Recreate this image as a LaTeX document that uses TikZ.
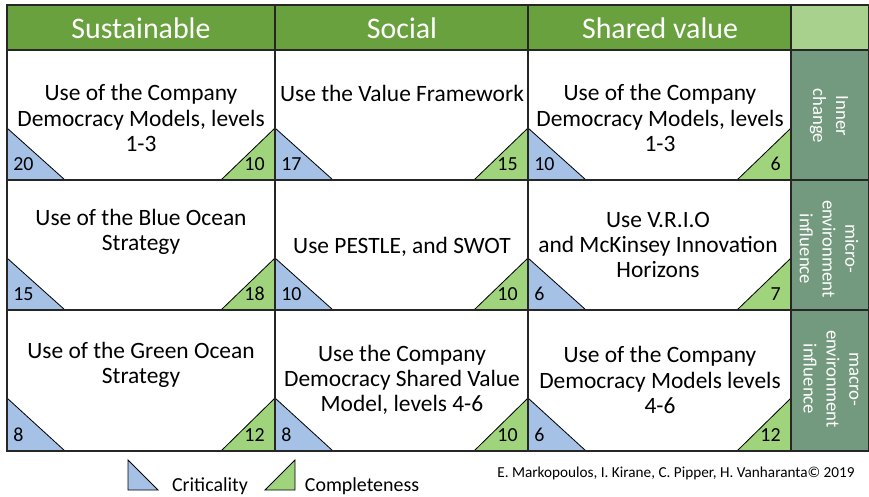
\documentclass[tikz,border=0pt]{standalone}
\usepackage{fontspec}
\setmainfont{Carlito}
\definecolor{headgreen}{HTML}{6AA13F}
\definecolor{lightgreen}{HTML}{A9D18E}
\definecolor{sidegreen}{HTML}{739A7F}
\definecolor{critblue}{HTML}{A5C2E6}
\definecolor{compgreen}{HTML}{9FD47C}

\begin{document}
\begin{tikzpicture}[x=0.03cm,y=-0.03cm,
        gridline/.style={draw=black!85,line width=0.9pt},
        crit/.style={fill=critblue,draw=black,line width=0.7pt},
        comp/.style={fill=compgreen,draw=black,line width=0.7pt},
        critnum/.style={anchor=base west,xshift=5pt,yshift=8.5pt,inner sep=0pt,font=\fontsize{17}{19}\selectfont},
        compnum/.style={anchor=base east,xshift=-8.5pt,yshift=8.5pt,inner sep=0pt,font=\fontsize{17}{19}\selectfont},
        head/.style={text=white,font=\fontsize{25.5}{28}\selectfont},
        cell/.style={align=center,inner sep=0pt,font=\fontsize{20}{21.5}\selectfont},
        side/.style={text=white,align=center,rotate=-90,inner sep=0pt,font=\fontsize{16}{19.5}\selectfont},
        legend/.style={font=\fontsize{17}{19}\selectfont}]
        \useasboundingbox (0,0) rectangle (869,496);
        \fill[headgreen] (7,5) rectangle (791,50);
        \fill[lightgreen] (791,5) rectangle (869,50);
        \fill[sidegreen] (791,50) rectangle (869,451);

        \node[head] (h1) at (141,28) {Sustainable};
        \node[head] (h2) at (402,28) {Social};
        \node[head] (h3) at (660,28) {Shared value};

        \draw[crit] (7,180) node[critnum] (k11) {20} -- ++(0,-52) -- ++(58,52) -- cycle;
        \draw[comp] (275,180) node[compnum] (g11) {10} -- ++(0,-52) -- ++(-54,52) -- cycle;
        \draw[crit] (275,180) node[critnum] (k12) {17} -- ++(0,-52) -- ++(58,52) -- cycle;
        \draw[comp] (528,180) node[compnum] (g12) {15} -- ++(0,-52) -- ++(-54,52) -- cycle;
        \draw[crit] (528,180) node[critnum] (k13) {10} -- ++(0,-52) -- ++(58,52) -- cycle;
        \draw[comp] (791,180) node[compnum] (g13) {6} -- ++(0,-52) -- ++(-54,52) -- cycle;
        \draw[crit] (7,310) node[critnum] (k21) {15} -- ++(0,-52) -- ++(58,52) -- cycle;
        \draw[comp] (275,310) node[compnum] (g21) {18} -- ++(0,-52) -- ++(-54,52) -- cycle;
        \draw[crit] (275,310) node[critnum] (k22) {10} -- ++(0,-52) -- ++(58,52) -- cycle;
        \draw[comp] (528,310) node[compnum] (g22) {10} -- ++(0,-52) -- ++(-54,52) -- cycle;
        \draw[crit] (528,310) node[critnum] (k23) {6} -- ++(0,-52) -- ++(58,52) -- cycle;
        \draw[comp] (791,310) node[compnum] (g23) {7} -- ++(0,-52) -- ++(-54,52) -- cycle;
        \draw[crit] (7,451) node[critnum] (k31) {8} -- ++(0,-53) -- ++(58,53) -- cycle;
        \draw[comp] (275,451) node[compnum] (g31) {12} -- ++(0,-53) -- ++(-54,53) -- cycle;
        \draw[crit] (275,451) node[critnum] (k32) {8} -- ++(0,-53) -- ++(58,53) -- cycle;
        \draw[comp] (528,451) node[compnum] (g32) {10} -- ++(0,-53) -- ++(-54,53) -- cycle;
        \draw[crit] (528,451) node[critnum] (k33) {6} -- ++(0,-53) -- ++(58,53) -- cycle;
        \draw[comp] (791,451) node[compnum] (g33) {12} -- ++(0,-53) -- ++(-54,53) -- cycle;

        \draw[gridline] (7,5) rectangle (869,451);
        \draw[gridline] (7,50) -- (869,50) (7,180) -- (869,180) (7,310) -- (869,310);
        \draw[gridline] (275,5) -- (275,451) (528,5) -- (528,451) (791,5) -- (791,451);

        \node[cell] (t11) at (141,118) {Use of the Company\\Democracy Models, levels\\1-3};
        \node[cell] (t12) at (402,93) {Use the Value Framework};
        \node[cell] (t13) at (660,118) {Use of the Company\\Democracy Models, levels\\1-3};
        \node[cell] (t21) at (141,232) {Use of the Blue Ocean\\Strategy};
        \node[cell] (t22) at (402,247) {Use PESTLE, and SWOT};
        \node[cell] (t23) at (658,245) {Use V.R.I.O\\and McKinsey Innovation\\Horizons};
        \node[cell] (t31) at (141,365) {Use of the Green Ocean\\Strategy};
        \node[cell] (t32) at (402,380) {Use the Company\\Democracy Shared Value\\Model, levels 4-6};
        \node[cell] (t33) at (660,380) {Use of the Company\\Democracy Models levels\\4-6};

        \node[side] (s1) at (829,116) {Inner\\change};
        \node[side] (s2) at (829,249) {micro-\\environment\\influence};
        \node[side] (s3) at (831,379) {macro-\\environment\\influence};

        \draw[crit] (128,460) -- (128,490) -- (158,490) -- cycle;
        \node[legend] (crit) at (210,486) {Criticality};
        \draw[comp] (295,460) -- (295,490) -- (265,490) -- cycle;
        \node[legend] (comp) at (362,486) {Completeness};
        \node[font=\fontsize{13}{15}\selectfont] (cite) at (676,473) {E. Markopoulos, I. Kirane, C. Pipper, H. Vanharanta© 2019};
\end{tikzpicture}
\end{document}
